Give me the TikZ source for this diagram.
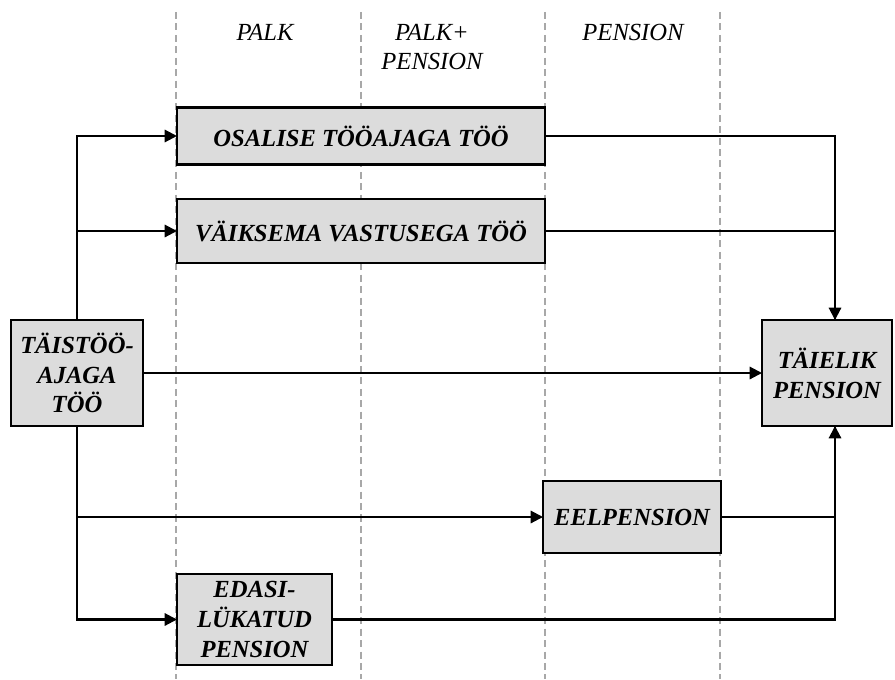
\documentclass[tikz,border=0pt]{standalone}
\usepackage{fontspec}
\setmainfont{Liberation Serif}
\usetikzlibrary{arrows.meta}

\definecolor{boxgray}{HTML}{DCDCDC}
\definecolor{dashgray}{HTML}{A8A8A8}

\begin{document}
\begin{tikzpicture}[x=0.02cm, y=-0.02cm,
	stage/.style={draw, line width=1.3pt, fill=boxgray, inner sep=0pt, outer sep=0pt,
		align=center, font=\fontsize{14}{17}\selectfont\bfseries\itshape},
	column/.style={align=center, font=\fontsize{14}{17}\selectfont\itshape},
	link/.style={line width=1.2pt},
	arr/.style={line width=1.2pt, -{Triangle[length=7pt, width=7pt]}}]

\def\width{895}
\def\height{679}

\path [use as bounding box] (0,0) rectangle (\width,\height);

% COLUMNS
\foreach \cx in {176,361,545,720}
	\draw [dashgray, line width=0.6pt, dash pattern=on 4pt off 2.5pt] (\cx,12) -- (\cx,\height);
\node [column] (palk) at (265,32) {PALK};
\node [column] (mix) at (432,47) {PALK+\\PENSION};
\node [column] (pens) at (633,32) {PENSION};

% BOXES
\node [stage, minimum width=368*0.02cm, minimum height=57*0.02cm] (part) at (361,136) {OSALISE TÖÖAJAGA TÖÖ};
\node [stage, minimum width=368*0.02cm, minimum height=64*0.02cm] (less) at (361,231) {VÄIKSEMA VASTUSEGA TÖÖ};
\node [stage, minimum width=132*0.02cm, minimum height=106*0.02cm] (full) at (77,373) {TÄISTÖÖ-\\AJAGA\\TÖÖ};
\node [stage, minimum width=130*0.02cm, minimum height=106*0.02cm] (retire) at (827,373) {TÄIELIK\\PENSION};
\node [stage, minimum width=178*0.02cm, minimum height=72*0.02cm] (early) at (632,517) {EELPENSION};
\node [stage, minimum width=155*0.02cm, minimum height=91*0.02cm] (defer) at (254.5,619.5) {EDASI-\\LÜKATUD\\PENSION};

\coordinate (rtop) at (835,320);
\coordinate (rbot) at (835,426);

% LEFT SIDE
\draw [arr] (full.north) |- (part.west);
\draw [arr] (full.north) |- (less.west);
\draw [arr] (full.east) -- (retire.west);
\draw [arr] (full.south) |- (early.west);
\draw [arr] (full.south) |- (defer.west);

% RIGHT SIDE
\draw [link] (less.east) -| (rtop);
\draw [arr] (part.east) -| (rtop);
\draw [link] (defer.east) -| (rbot);
\draw [arr] (early.east) -| (rbot);

\end{tikzpicture}
\end{document}
